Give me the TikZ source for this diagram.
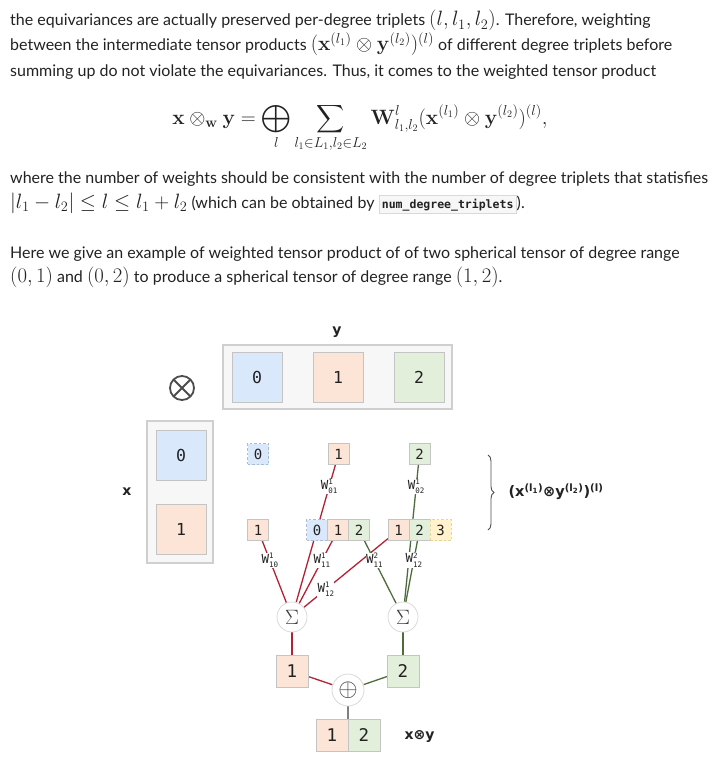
\documentclass[tikz,border=0pt]{standalone}
\usepackage{amsmath,amssymb}
\usepackage[no-math]{fontspec}
\setmainfont{Lato}
\newfontfamily\cellfont{DejaVu Sans Mono}
\newfontfamily\labfont{DejaVu Sans}
\usepackage{tikz}
\usetikzlibrary{positioning,backgrounds,decorations.pathreplacing}
\usepackage{xcolor}

\definecolor{txt}{HTML}{222222}
\definecolor{cblue}{HTML}{DAE8FC}
\definecolor{corange}{HTML}{FCE4D6}
\definecolor{cgreen}{HTML}{E2EFDA}
\definecolor{cyellow}{HTML}{FFF2CC}
\definecolor{cellgray}{HTML}{C4C4C4}
\definecolor{ghostblue}{HTML}{A9BCD6}
\definecolor{ghostyel}{HTML}{E6D49E}
\definecolor{boxbg}{HTML}{F7F7F7}
\definecolor{boxgray}{HTML}{CFCFCF}
\definecolor{wred}{HTML}{B22234}
\definecolor{wgreen}{HTML}{4E6B3A}

\newcommand{\mth}[1]{{\fontsize{19.3}{19}\selectfont$#1$}}
\newcommand{\wgt}[2]{W\rlap{\raisebox{4.5pt}{\fontsize{7.5}{7.5}\selectfont #1}}\raisebox{-4.5pt}{\fontsize{7.5}{7.5}\selectfont #2}}
\newcommand{\codebox}[1]{{\setlength{\fboxsep}{2.5pt}\setlength{\fboxrule}{0.8pt}%
  \fcolorbox{black!15}{black!3}{\cellfont\bfseries\fontsize{11.5}{12}\selectfont #1}}}

\begin{document}
\begin{tikzpicture}[x=1pt,y=-1pt,
  para/.style={anchor=base west,inner sep=0pt,text=txt,font=\fontsize{16}{19}\selectfont},
  cell/.style={draw=cellgray,line width=0.8pt,inner sep=0pt,outer sep=0pt,text=txt},
  cellbig/.style={cell,minimum size=50pt,font=\cellfont\fontsize{16.5}{16}\selectfont},
  cellsml/.style={cell,minimum size=21pt,font=\cellfont\fontsize{14}{14}\selectfont},
  cellres/.style={cell,minimum size=32pt,font=\cellfont\fontsize{17.5}{17}\selectfont},
  degzero/.style={fill=cblue},
  degone/.style={fill=corange},
  degtwo/.style={fill=cgreen},
  ghost/.style={dash pattern=on 2.5pt off 2pt},
  holder/.style={draw=boxgray,fill=boxbg,line width=1.2pt,inner sep=0pt},
  wlab/.style={fill=white,inner sep=0.4pt,text=txt,font=\cellfont\fontsize{12.5}{12}\selectfont},
  opcirc/.style={circle,draw=black!15,fill=white,line width=0.8pt,minimum size=30pt,inner sep=0pt,text=black!75},
  redline/.style={draw=wred,line width=1.3pt},
  grnline/.style={draw=wgreen,line width=1.3pt},
  axlab/.style={text=txt,font=\labfont\bfseries\fontsize{14}{14}\selectfont}]
\useasboundingbox (0,0) rectangle (715,760);

% text above the figure
\node[para] (t1) at (10,26) {the equivariances are actually preserved per-degree triplets \mth{(l, l_1, l_2)}. Therefore, weighting};
\node[para] (t2) at (10,51) {between the intermediate tensor products \mth{(\mathbf{x}^{(l_1)}\otimes\mathbf{y}^{(l_2)})^{(l)}} of different degree triplets before};
\node[para] (t3) at (10,76) {summing up do not violate the equivariances. Thus, it comes to the weighted tensor product};
\node[anchor=base,inner sep=0pt,text=txt,font=\fontsize{19.5}{19}\selectfont] (eq) at (360,124)
  {$\displaystyle \mathbf{x}\otimes_{\mathbf{w}}\mathbf{y}=\bigoplus_{l}\sum_{l_1\in L_1,l_2\in L_2}\mathbf{W}^{l}_{l_1,l_2}(\mathbf{x}^{(l_1)}\otimes\mathbf{y}^{(l_2)})^{(l)},$};
\node[para] (t4) at (10,183) {where the number of weights should be consistent with the number of degree triplets that statisfies};
\node[para] (t5) at (10,208) {\mth{|l_1-l_2|\le l\le l_1+l_2} (which can be obtained by \codebox{num\_degree\_triplets}).};
\node[para] (t6) at (10,258) {Here we give an example of weighted tensor product of of two spherical tensor of degree range};
\node[para] (t7) at (10,282) {\mth{(0,1)} and \mth{(0,2)} to produce a spherical tensor of degree range \mth{(1,2)}.};

% inputs
\node[holder,minimum width=229pt,minimum height=64pt] (ybox) at (337.5,377) {};
\node[holder,minimum width=66pt,minimum height=142pt] (xbox) at (180,492) {};
\node[axlab] (ylab) at (337,332) {y};
\node[axlab] (xlab) at (127,492) {x};
\node[cellbig,degzero] (y0) at (257,377) {0};
\node[cellbig,degone] (y1) at (338,377) {1};
\node[cellbig,degtwo] (y2) at (419,377) {2};
\node[cellbig,degzero] (x0) at (181,455) {0};
\node[cellbig,degone] (x1) at (181,529.5) {1};
\node[circle,draw=black!70,line width=1.8pt,minimum size=24pt,inner sep=0pt,outer sep=0pt] (prod) at (182,388) {};
\draw[black!70,line width=1.8pt] (prod.45) -- (prod.225) (prod.135) -- (prod.315);

% degree triplets
\node[cellsml,degzero,ghost,draw=ghostblue] (p00) at (258,454) {0};
\node[cellsml,degone] (p01) at (338.5,454) {1};
\node[cellsml,degtwo] (p02) at (419.5,454) {2};
\node[cellsml,degone] (p10) at (258,530) {1};
\node[cellsml,degzero,ghost,draw=ghostblue] (p11a) at (317,530) {0};
\node[cellsml,degone,right=0pt of p11a] (p11b) {1};
\node[cellsml,degtwo,right=0pt of p11b] (p11c) {2};
\node[cellsml,degone] (p12a) at (398.5,530) {1};
\node[cellsml,degtwo,right=0pt of p12a] (p12b) {2};
\node[cellsml,fill=cyellow,ghost,draw=ghostyel,right=0pt of p12b] (p12c) {3};
\draw[decorate,decoration={brace,amplitude=6pt},black!70,line width=0.9pt] (488,455) -- (488,530);
\node[anchor=west,text=txt,font=\labfont\bfseries\fontsize{14.5}{14}\selectfont] (plab) at (505,492)
  {(x\textsuperscript{(l\textsubscript{1})}⊗y\textsuperscript{(l\textsubscript{2})})\textsuperscript{(l)}};

% sums and output
\node[opcirc,font=\fontsize{20}{20}\selectfont] (sumA) at (292,617) {$\Sigma$};
\node[opcirc,font=\fontsize{20}{20}\selectfont] (sumB) at (403,617) {$\Sigma$};
\node[cellres,degone] (res1) at (292,671) {1};
\node[cellres,degtwo] (res2) at (403,671) {2};
\node[opcirc,minimum size=32pt,font=\fontsize{25}{25}\selectfont] (dsum) at (348,690) {$\oplus$};
\node[cellres,degone] (out1) at (332,735) {1};
\node[cellres,degtwo,right=0pt of out1] (out2) {2};
\node[anchor=west,text=txt,font=\labfont\bfseries\fontsize{14}{14}\selectfont] (olab) at (401,737) {x⊗y};

\begin{scope}[on background layer]
\draw[redline] (p01) -- (sumA);
\draw[redline] (p10) -- (sumA);
\draw[redline] (p11b) -- (sumA);
\draw[redline] (p12a) -- (sumA);
\draw[grnline] (p02) -- (sumB);
\draw[grnline] (p11c) -- (sumB);
\draw[grnline] (p12b) -- (sumB);
\draw[redline] (sumA) -- (res1);
\draw[grnline] (sumB) -- (res2);
\draw[redline] (res1) -- (dsum);
\draw[grnline] (res2) -- (dsum);
\draw[black!50,line width=1.3pt] (dsum) -- (out1.north east);
\end{scope}

% weight labels
\path (p01) -- node[wlab,pos=0.16] (w01) {\wgt{1}{01}} (sumA);
\path (p10) -- node[wlab,pos=0.32] (w10) {\wgt{1}{10}} (sumA);
\path (p11b) -- node[wlab,pos=0.32] (w11a) {\wgt{1}{11}} (sumA);
\path (p12a) -- node[wlab,pos=0.74] (w12a) {\wgt{1}{12}} (sumA);
\path (p02) -- node[wlab,pos=0.16] (w02) {\wgt{1}{02}} (sumB);
\path (p11c) -- node[wlab,pos=0.32] (w11b) {\wgt{2}{11}} (sumB);
\path (p12b) -- node[wlab,pos=0.32] (w12b) {\wgt{2}{12}} (sumB);
\end{tikzpicture}
\end{document}
